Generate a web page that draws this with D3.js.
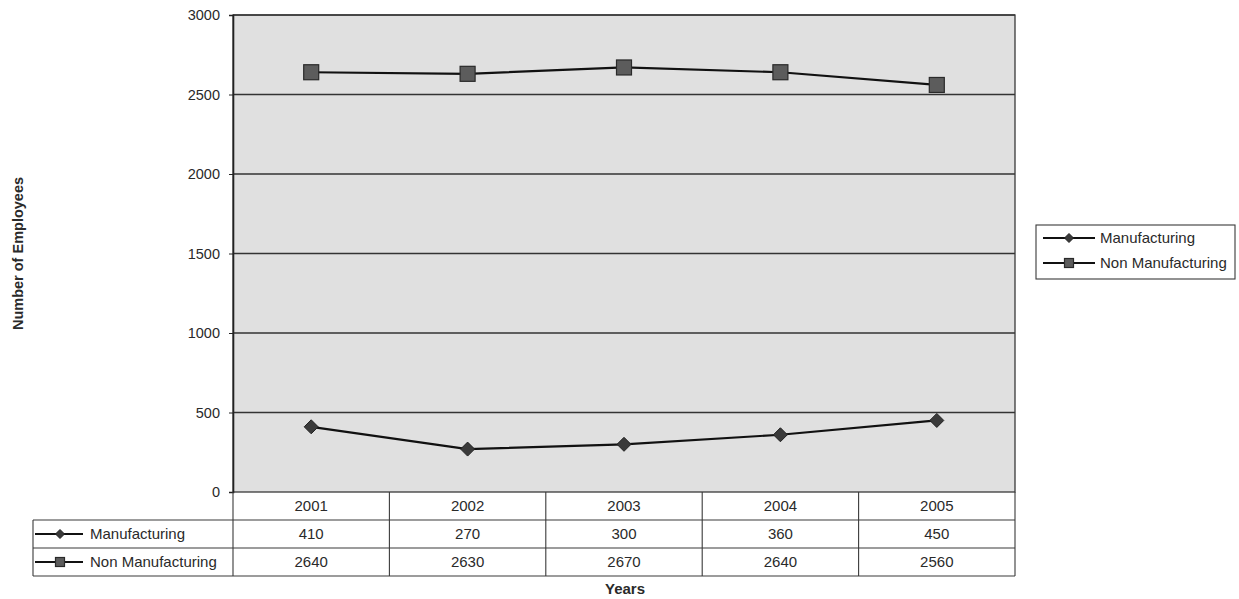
<!DOCTYPE html>
<html>
<head>
<meta charset="utf-8">
<script src="https://cdn.jsdelivr.net/npm/d3@7"></script>
<style>
  html, body { margin: 0; padding: 0; background: #fff; }
  svg { display: block; font-family: "Liberation Sans", Arial, sans-serif; }
</style>
</head>
<body>
<svg id="chart" width="1239" height="599"></svg>
<script>
// Employees by sector, 2001–2005
const years = ["2001", "2002", "2003", "2004", "2005"];
const manufacturing = [410, 270, 300, 360, 450];
const nonManufacturing = [2640, 2630, 2670, 2640, 2560];
const yTicks = [0, 500, 1000, 1500, 2000, 2500, 3000];
const seriesNames = ["Manufacturing", "Non Manufacturing"];

const series = [
  { name: seriesNames[0], values: manufacturing, marker: "diamond" },
  { name: seriesNames[1], values: nonManufacturing, marker: "square" }
];

const svg = d3.select("#chart");
const plot = { left: 233, right: 1015, top: 15, bottom: 492 };
const rowH = 28;
const tableLeft = 33;
const textColor = "#2a2a2a";
const fontSize = 15;

const x = d3.scaleBand().domain(years).range([plot.left, plot.right]);
const y = d3.scaleLinear().domain([0, 3000]).range([plot.bottom, plot.top]);

// Plot background
svg.append("rect")
  .attr("x", plot.left).attr("y", plot.top)
  .attr("width", plot.right - plot.left).attr("height", plot.bottom - plot.top)
  .attr("fill", "#e0e0e0");

// Gridlines
svg.append("g")
  .selectAll("line")
  .data(yTicks.slice(1))
  .join("line")
  .attr("x1", plot.left).attr("x2", plot.right)
  .attr("y1", d => y(d)).attr("y2", d => y(d))
  .attr("stroke", "#333").attr("stroke-width", 1.4);

// Plot frame
svg.append("rect")
  .attr("x", plot.left).attr("y", plot.top)
  .attr("width", plot.right - plot.left).attr("height", plot.bottom - plot.top)
  .attr("fill", "none").attr("stroke", "#3a3a3a").attr("stroke-width", 1.3);

// Y axis
const yAxis = svg.append("g")
  .attr("transform", `translate(${plot.left},0)`)
  .call(d3.axisLeft(y).tickValues(yTicks).tickSize(4).tickPadding(9).tickFormat(d3.format("d")));
yAxis.select(".domain").attr("stroke", "#222").attr("stroke-width", 1.6);
yAxis.selectAll(".tick line").attr("stroke", "#222");
yAxis.selectAll(".tick text")
  .attr("font-size", 14.5).attr("fill", textColor)
  .attr("dy", "0.34em")
  .style("font-family", "'Liberation Sans', Arial, sans-serif");

// Y axis title
svg.append("text")
  .attr("transform", `translate(23,${(plot.top + plot.bottom) / 2}) rotate(-90)`)
  .attr("text-anchor", "middle")
  .attr("font-size", 14.5).attr("font-weight", "bold").attr("fill", textColor)
  .text("Number of Employees");

// Marker drawing
function drawMarker(g, type, cx, cy, s) {
  if (type === "diamond") {
    g.append("path")
      .attr("d", `M${cx},${cy - s}L${cx + s},${cy}L${cx},${cy + s}L${cx - s},${cy}Z`)
      .attr("fill", "#3a3a3a").attr("stroke", "#222").attr("stroke-width", 1);
  } else {
    g.append("rect")
      .attr("x", cx - s).attr("y", cy - s)
      .attr("width", 2 * s).attr("height", 2 * s)
      .attr("fill", "#5c5c5c").attr("stroke", "#2a2a2a").attr("stroke-width", 1.2);
  }
}

// Series lines and markers
const line = d3.line()
  .x((d, i) => x(years[i]) + x.bandwidth() / 2)
  .y(d => y(d));

series.forEach(s => {
  const g = svg.append("g");
  g.append("path")
    .datum(s.values)
    .attr("d", line)
    .attr("fill", "none").attr("stroke", "#111").attr("stroke-width", 2.2);
  s.values.forEach((v, i) => {
    drawMarker(g, s.marker, x(years[i]) + x.bandwidth() / 2, y(v), s.marker === "diamond" ? 7 : 7.5);
  });
});

// Data table
const table = svg.append("g").attr("stroke", "#3a3a3a").attr("stroke-width", 1.1);
const tableBottom = plot.bottom + rowH * 3;
[1, 2, 3].forEach(r => {
  table.append("line").attr("x1", tableLeft).attr("x2", plot.right)
    .attr("y1", plot.bottom + rowH * r).attr("y2", plot.bottom + rowH * r);
});
table.append("line").attr("x1", tableLeft).attr("x2", tableLeft)
  .attr("y1", plot.bottom + rowH).attr("y2", tableBottom);
years.forEach(yr => {
  table.append("line").attr("x1", x(yr)).attr("x2", x(yr))
    .attr("y1", plot.bottom).attr("y2", tableBottom);
});
table.append("line").attr("x1", plot.right).attr("x2", plot.right)
  .attr("y1", plot.bottom).attr("y2", tableBottom);

const cellText = svg.append("g")
  .attr("font-size", fontSize).attr("fill", textColor).attr("text-anchor", "middle");
years.forEach(yr => {
  cellText.append("text")
    .attr("x", x(yr) + x.bandwidth() / 2).attr("y", plot.bottom + rowH / 2 + 5)
    .text(yr);
});
series.forEach((s, r) => {
  const cy = plot.bottom + rowH * (r + 1) + rowH / 2;
  s.values.forEach((v, i) => {
    cellText.append("text")
      .attr("x", x(years[i]) + x.bandwidth() / 2).attr("y", cy + 5)
      .text(v);
  });
  const key = svg.append("g");
  key.append("line").attr("x1", tableLeft + 2).attr("x2", tableLeft + 50)
    .attr("y1", cy).attr("y2", cy).attr("stroke", "#111").attr("stroke-width", 2);
  drawMarker(key, s.marker, tableLeft + 27, cy, 4.5);
  key.append("text").attr("x", tableLeft + 57).attr("y", cy + 5)
    .attr("font-size", fontSize).attr("fill", textColor).text(s.name);
});

// X axis title
svg.append("text")
  .attr("x", 625).attr("y", 594)
  .attr("text-anchor", "middle")
  .attr("font-size", 15).attr("font-weight", "bold").attr("fill", textColor)
  .text("Years");

// Legend
const legend = svg.append("g").attr("transform", "translate(1036,225)");
legend.append("rect").attr("width", 199).attr("height", 54)
  .attr("fill", "#fff").attr("stroke", "#3a3a3a").attr("stroke-width", 1.1);
series.forEach((s, i) => {
  const cy = 13 + i * 25;
  legend.append("line").attr("x1", 7).attr("x2", 59)
    .attr("y1", cy).attr("y2", cy).attr("stroke", "#111").attr("stroke-width", 2);
  drawMarker(legend, s.marker, 33, cy, 4.5);
  legend.append("text").attr("x", 64).attr("y", cy + 5)
    .attr("font-size", fontSize).attr("fill", textColor).text(s.name);
});
</script>
</body>
</html>
